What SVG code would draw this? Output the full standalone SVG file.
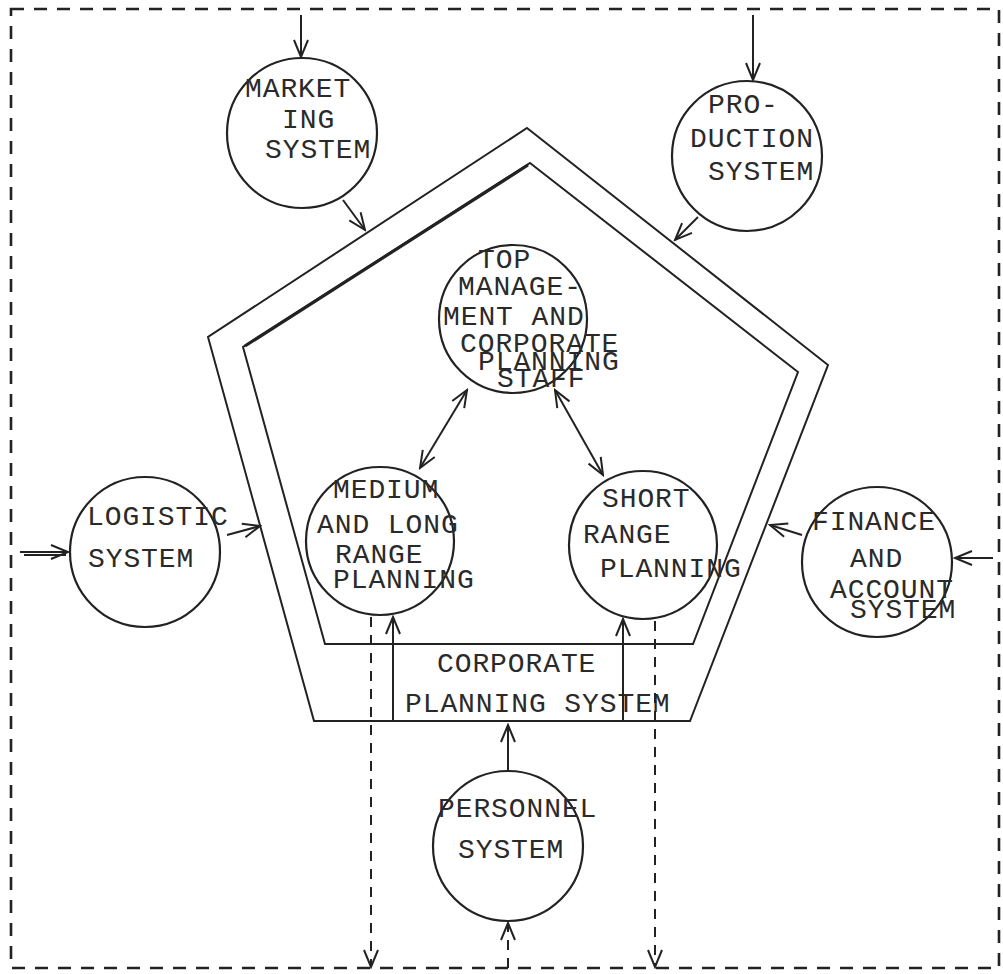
<svg xmlns="http://www.w3.org/2000/svg" width="1003" height="974" viewBox="0 0 1003 974">
  <defs>
    <marker id="vhead" viewBox="-20 -10 22 20" refX="0" refY="0" markerWidth="22" markerHeight="20" markerUnits="userSpaceOnUse" orient="auto-start-reverse">
      <path d="M-17,-7 L0,0 L-17,7" fill="none" stroke="#222" stroke-width="2"/>
    </marker>
    <style>
      .ink { fill: none; stroke: #222; stroke-width: 2; }
      .node { fill: none; stroke: #222; stroke-width: 2.2; }
      .dash { fill: none; stroke: #222; stroke-width: 2; stroke-dasharray: 10 8; }
      .border { fill: none; stroke: #222; stroke-width: 2.6; stroke-dasharray: 13 10; }
      .lbl { font-family: "Liberation Mono", "Courier New", monospace; font-size: 28px; letter-spacing: 0.9px; fill: #2a2a2a; }
    </style>
  </defs>
  <rect width="1003" height="974" fill="#ffffff"/>

  <!-- outer system boundary -->
  <rect class="border" x="11" y="9" width="988" height="959"/>

  <!-- corporate planning system: double pentagon -->
  <g id="corporate-planning-system">
    <polygon class="ink" points="527,128 828,365 690,721 314,721 208,337"/>
    <polygon class="ink" points="530,163 798,372 693,644 325,644 243,347"/>
    <line x1="245" y1="346" x2="528" y2="165" stroke="#222" stroke-width="3.2"/>
    <text class="lbl" x="437" y="672">CORPORATE</text>
    <text class="lbl" x="405" y="712">PLANNING SYSTEM</text>
  </g>

  <g id="marketing-system">
    <circle class="node" cx="302" cy="133" r="75"/>
    <text class="lbl" x="245" y="97">MARKET</text>
    <text class="lbl" x="282" y="128">ING</text>
    <text class="lbl" x="265" y="158">SYSTEM</text>
  </g>

  <g id="production-system">
    <circle class="node" cx="747" cy="156" r="75"/>
    <text class="lbl" x="708" y="113">PRO-</text>
    <text class="lbl" x="690" y="147">DUCTION</text>
    <text class="lbl" x="708" y="180">SYSTEM</text>
  </g>

  <g id="top-management">
    <circle class="node" cx="513" cy="319" r="74"/>
    <text class="lbl" x="478" y="268">TOP</text>
    <text class="lbl" x="458" y="295">MANAGE-</text>
    <text class="lbl" x="443" y="325">MENT AND</text>
    <text class="lbl" x="460" y="352">CORPORATE</text>
    <text class="lbl" x="478" y="370">PLANNING</text>
    <text class="lbl" x="497" y="387">STAFF</text>
  </g>

  <g id="medium-long-range-planning">
    <circle class="node" cx="380" cy="541" r="74"/>
    <text class="lbl" x="333" y="498">MEDIUM</text>
    <text class="lbl" x="317" y="533">AND LONG</text>
    <text class="lbl" x="335" y="563">RANGE</text>
    <text class="lbl" x="333" y="588">PLANNING</text>
  </g>

  <g id="short-range-planning">
    <circle class="node" cx="643" cy="545" r="74"/>
    <text class="lbl" x="602" y="507">SHORT</text>
    <text class="lbl" x="583" y="543">RANGE</text>
    <text class="lbl" x="600" y="577">PLANNING</text>
  </g>

  <g id="logistic-system">
    <circle class="node" cx="145" cy="552" r="75"/>
    <text class="lbl" x="87" y="525">LOGISTIC</text>
    <text class="lbl" x="88" y="567">SYSTEM</text>
  </g>

  <g id="finance-account-system">
    <circle class="node" cx="877" cy="562" r="75"/>
    <text class="lbl" x="812" y="530">FINANCE</text>
    <text class="lbl" x="850" y="567">AND</text>
    <text class="lbl" x="830" y="598">ACCOUNT</text>
    <text class="lbl" x="850" y="618">SYSTEM</text>
  </g>

  <g id="personnel-system">
    <circle class="node" cx="508" cy="846" r="75"/>
    <text class="lbl" x="438" y="817">PERSONNEL</text>
    <text class="lbl" x="458" y="858">SYSTEM</text>
  </g>

  <g id="connectors">
    <!-- inputs from the environment -->
    <line class="ink" x1="301" y1="15" x2="301" y2="57" marker-end="url(#vhead)"/>
    <line class="ink" x1="753" y1="15" x2="753" y2="80" marker-end="url(#vhead)"/>
    <line class="ink" x1="20" y1="552" x2="68" y2="552" marker-end="url(#vhead)"/>
    <line class="ink" x1="24" y1="555" x2="66" y2="555"/>
    <line class="ink" x1="993" y1="558" x2="955" y2="558" marker-end="url(#vhead)"/>
    <line class="dash" x1="508" y1="968" x2="508" y2="923" marker-end="url(#vhead)"/>

    <!-- functional systems into the planning system -->
    <line class="ink" x1="343" y1="200" x2="365" y2="230" marker-end="url(#vhead)"/>
    <line class="ink" x1="698" y1="217" x2="675" y2="240" marker-end="url(#vhead)"/>
    <line class="ink" x1="227" y1="535" x2="260" y2="526" marker-end="url(#vhead)"/>
    <line class="ink" x1="802" y1="535" x2="770" y2="525" marker-end="url(#vhead)"/>
    <line class="ink" x1="508" y1="772" x2="508" y2="725" marker-end="url(#vhead)"/>

    <!-- staff to planning circles -->
    <line class="ink" x1="467" y1="390" x2="420" y2="468" marker-start="url(#vhead)" marker-end="url(#vhead)"/>
    <line class="ink" x1="555" y1="390" x2="603" y2="475" marker-start="url(#vhead)" marker-end="url(#vhead)"/>

    <!-- planning system feeding the planning circles -->
    <line class="ink" x1="393" y1="721" x2="393" y2="617" marker-end="url(#vhead)"/>
    <line class="ink" x1="623" y1="721" x2="623" y2="619" marker-end="url(#vhead)"/>

    <!-- plans out to the environment -->
    <line class="dash" x1="371" y1="617" x2="371" y2="967" marker-end="url(#vhead)"/>
    <line class="dash" x1="655" y1="621" x2="655" y2="967" marker-end="url(#vhead)"/>
  </g>
</svg>
